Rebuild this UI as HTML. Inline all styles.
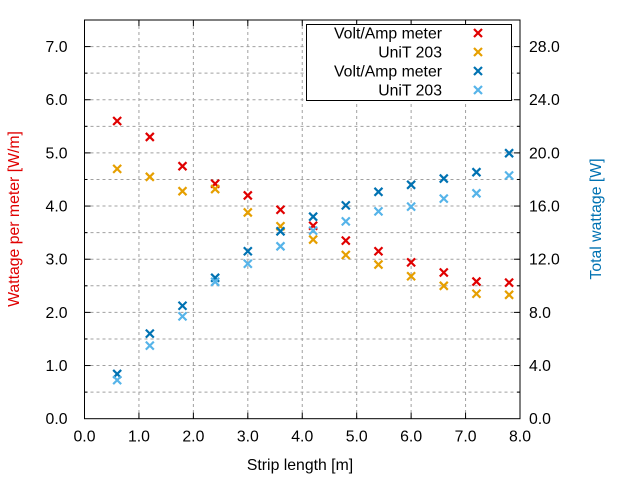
<!DOCTYPE html>
<html><head><meta charset="utf-8"><style>
html,body{margin:0;padding:0;background:#fff;}
svg{display:block;font-family:"Liberation Sans",sans-serif;}
</style></head><body>
<svg id="chart" width="640" height="480" viewBox="0 0 640 480">
<g id="grid"></g>
<g id="axes"></g>
<g id="marks"></g>
<text x="300" y="470" text-anchor="middle" font-size="15.8" fill="#000">Strip length [m]</text>
<text transform="translate(19,219) rotate(-90)" text-anchor="middle" font-size="15.8" fill="#e00000">Wattage per meter [W/m]</text>
<text transform="translate(601,219) rotate(-90)" text-anchor="middle" font-size="15.8" fill="#0072b2">Total wattage [W]</text>
<g id="legend"></g>
</svg>
<script>
const lengths = [0.6,1.2,1.8,2.4,3.0,3.6,4.2,4.8,5.4,6.0,6.6,7.2,7.8];
const perMeterVA = [5.6,5.3,4.75,4.42,4.2,3.93,3.63,3.35,3.15,2.94,2.75,2.58,2.56];
const perMeterUniT = [4.7,4.55,4.28,4.32,3.88,3.62,3.37,3.08,2.9,2.68,2.5,2.35,2.33];
const totalVA = [3.37,6.4,8.5,10.6,12.6,14.1,15.2,16.05,17.07,17.6,18.07,18.55,19.98];
const totalUniT = [2.9,5.5,7.7,10.3,11.66,12.97,14.15,14.85,15.6,15.96,16.56,16.96,18.3];
const xTicks = ["0.0","1.0","2.0","3.0","4.0","5.0","6.0","7.0","8.0"];
const yTicks = ["0.0","1.0","2.0","3.0","4.0","5.0","6.0","7.0"];
const y2Ticks = ["0.0","4.0","8.0","12.0","16.0","20.0","24.0","28.0"];
const legendLabels = ["Volt/Amp meter","UniT 203","Volt/Amp meter","UniT 203"];

const NS="http://www.w3.org/2000/svg";
const L=84.5,R=520,T=20,B=418.7;
const FS=15.8;
const xs=v=>L+(v/8)*(R-L);
const ys=v=>B-(v/7.5)*(B-T);
const ys2=v=>B-(v/30)*(B-T);
function mk(tag,attrs,parent){const e=document.createElementNS(NS,tag);for(const k in attrs)e.setAttribute(k,attrs[k]);parent.appendChild(e);return e;}
const grid=document.getElementById('grid'),axes=document.getElementById('axes'),marks=document.getElementById('marks'),legend=document.getElementById('legend');
xTicks.forEach((t,i)=>{const v=parseFloat(t);const x=xs(v);
 if(i>0&&i<xTicks.length-1){const g=mk('line',{x1:x,x2:x,y1:T,y2:B,stroke:'#a0a0a0','stroke-dasharray':'3,3','stroke-width':1},grid);
 
 }
 mk('line',{x1:x,x2:x,y1:B,y2:B-6,stroke:'#000'},axes);
 mk('line',{x1:x,x2:x,y1:T,y2:T+6,stroke:'#000'},axes);
 const tx=mk('text',{x:x,y:B+23,'text-anchor':'middle','font-size':FS,fill:'#000'},axes);tx.textContent=t;
 
 
});
for(let k=1;k<15;k++){const v=k*0.5;const y=ys(v);
 const g=mk('line',{x1:L,x2:R,y1:y,y2:y,stroke:'#a0a0a0','stroke-dasharray':'3,3','stroke-width':1},grid);
 
 
 const len=(k%2===0)?6:3;
 mk('line',{x1:L,x2:L+len,y1:y,y2:y,stroke:'#000'},axes);
 mk('line',{x1:R,x2:R-len,y1:y,y2:y,stroke:'#000'},axes);
}
yTicks.forEach(t=>{const y=ys(parseFloat(t));
 const tx=mk('text',{x:L-17,y:y+5.5,'text-anchor':'end','font-size':FS,fill:'#000'},axes);tx.textContent=t;
 
 });
y2Ticks.forEach(t=>{const y=ys2(parseFloat(t));
 const tx=mk('text',{x:R+9,y:y+5.5,'text-anchor':'start','font-size':FS,fill:'#000'},axes);tx.textContent=t;
 
 });
mk('rect',{x:L,y:T,width:R-L,height:B-T,fill:'none',stroke:'#000','stroke-width':1},axes);
function cross(x,y,c,parent,name){const g=mk('path',{d:`M${x-4},${y-4}L${x+4},${y+4}M${x-4},${y+4}L${x+4},${y-4}`,stroke:c,'stroke-width':2.2,fill:'none'},parent);
 
 }
const series=[[perMeterVA,'#e00000',ys,'point-va-per-meter'],[perMeterUniT,'#e69f00',ys,'point-unit-per-meter'],[totalVA,'#0072b2',ys2,'point-va-total'],[totalUniT,'#56b4e9',ys2,'point-unit-total']];
series.forEach(s=>{s[0].forEach((v,i)=>cross(xs(lengths[i]),s[2](v),s[1],marks,s[3]));});
const lb=mk('rect',{x:306.5,y:24.5,width:205,height:76,fill:'#fff',stroke:'#000'},legend);


legendLabels.forEach((lab,i)=>{const y=33+i*19;
 const tx=mk('text',{x:442,y:y+5.5,'text-anchor':'end','font-size':FS,fill:'#000'},legend);tx.textContent=lab;
 
 
 cross(478,y,series[i][1],legend,'legend-marker');});
</script>
</body></html>
